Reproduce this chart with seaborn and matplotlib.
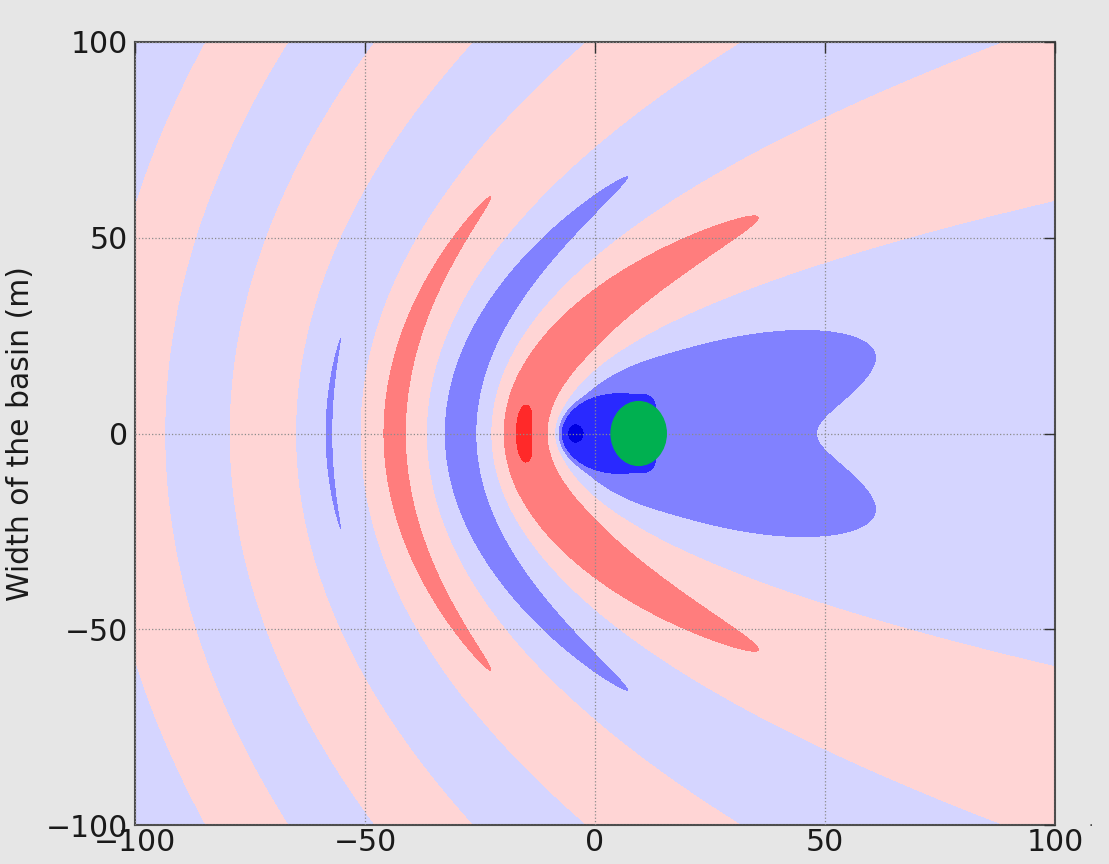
import numpy as np
import matplotlib
matplotlib.use("Agg")
import matplotlib.pyplot as plt
from matplotlib.patches import Ellipse
import seaborn as sns

# basin extent and ticks (m)
x_range = [-100, 100]
y_range = [-100, 100]
ticks = [-100, -50, 0, 50, 100]

# wave pattern:
# crests are parabolas r - x = const with focus at the source
source_x = 0.0
crest_offset = 16.4      # r - x at the first zero crossing
half_wave = 28.44        # r - x between zero crossings
amp_base = 0.62
amp_decay = 23.0
amp_rmin = 15.0
lobe_gain, lobe_angle, lobe_width, lobe_r = 0.13, 36.0, 15.0, 25.0
side_gain, side_angle, side_width = 0.035, 90.0, 35.0
axis_dip, dip_width = 0.06, 10.0
near_dip, near_dip_r, near_dip_angle = 0.07, 22.0, 30.0
ring_dip, ring_r, ring_width = 0.08, 15.0, 3.0

# bright crest in front of the hull
crest_center = (-16.0, 0.0)
crest_axes = (1.8, 8.0)
crest_height = 0.4

# near field round the hull
hull_center = (3.2, 0.0)
hull_axes = (11.0, 10.0)
hull_level = -2.4
core_center = (-4.2, 0.0)
core_axes = (2.2, 3.0)
core_depth = -1.2

levels = np.arange(-6, 7)

# the body (green)
body_center = (9.5, 0.0)
body_size = (12.0, 16.3)
body_color = "#00b050"

#--------------------------------------------------
# field
#--------------------------------------------------
x = np.linspace(x_range[0], x_range[1], 801)
y = np.linspace(y_range[0], y_range[1], 801)
X, Y = np.meshgrid(x, y)

dx = X - source_x
r = np.hypot(dx, Y)
phase = r - dx
theta = np.degrees(np.arctan2(np.abs(Y), dx))

amp = amp_base + amp_decay / np.maximum(r, amp_rmin)
gain = (1
        + lobe_gain * (1 - np.exp(-(r / lobe_r) ** 2)) * np.exp(-((theta - lobe_angle) / lobe_width) ** 2)
        + side_gain * np.exp(-((theta - side_angle) / side_width) ** 2)
        - axis_dip * np.exp(-(theta / dip_width) ** 2)
        - near_dip * np.exp(-(r / near_dip_r) ** 2) * np.exp(-(theta / near_dip_angle) ** 2)
        - ring_dip * np.exp(-((r - ring_r) / ring_width) ** 2))
wave = amp * gain * np.sin(np.pi * (phase - crest_offset) / half_wave)
wave += crest_height * np.exp(-((X - crest_center[0]) / crest_axes[0]) ** 2
                              - ((Y - crest_center[1]) / crest_axes[1]) ** 2)

d = np.sqrt(((X - hull_center[0]) / hull_axes[0]) ** 2 + ((Y - hull_center[1]) / hull_axes[1]) ** 2)
mask = 1 / (1 + np.exp((d - 1) / 0.04))
near = hull_level + core_depth * np.exp(-((X - core_center[0]) / core_axes[0]) ** 2
                                        - ((Y - core_center[1]) / core_axes[1]) ** 2)
field = wave * (1 - mask) + near * mask
field = np.clip(field, levels[0] + 0.01, levels[-1] - 0.01)

#--------------------------------------------------
# plot
#--------------------------------------------------
sns.set_style("white")
plt.rcParams["font.family"] = ["DejaVu Sans"]

fig = plt.figure(figsize=(11.09, 8.64), dpi=100, facecolor="#e6e6e6")
ax = fig.add_axes([0.1217, 0.0451, 0.8296, 0.9063])

ax.contourf(X, Y, field, levels=levels, cmap="seismic")
ax.add_patch(Ellipse(body_center, body_size[0], body_size[1], color=body_color, zorder=3))

ax.set_xlim(x_range)
ax.set_ylim(y_range)
ax.set_xticks(ticks)
ax.set_yticks(ticks)
ax.grid(True, linestyle=":", color="0.55", linewidth=0.9)
ax.set_axisbelow(False)

ax.tick_params(direction="in", top=True, right=True, length=8, width=1,
               color="0.2", labelsize=21.5, labelcolor="#1a1a1a")
ax.tick_params(axis="x", pad=2)
ax.tick_params(axis="y", pad=5)
for s in ax.spines.values():
    s.set_linewidth(1.5)
    s.set_color("0.3")

ax.set_ylabel("Width of the basin (m)", fontsize=21.5, labelpad=8, color="#1a1a1a")
fig.text(1088 / 1109, 1 - 826 / 864, ".", fontsize=10, color="0.2")

fig.savefig("out.png", dpi=100, facecolor=fig.get_facecolor())
